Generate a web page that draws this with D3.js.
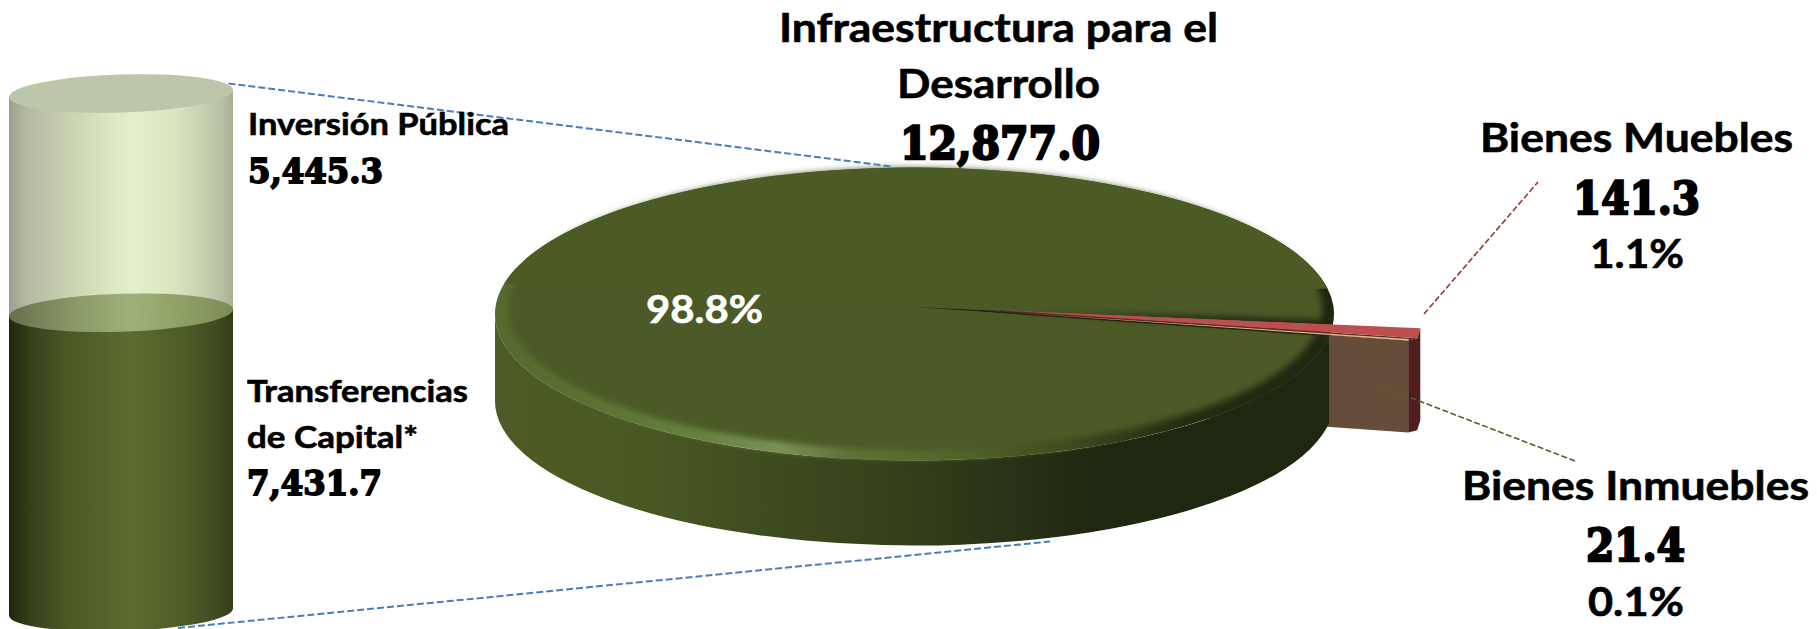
<!DOCTYPE html>
<html>
<head>
<meta charset="utf-8">
<script src="https://cdn.jsdelivr.net/npm/d3@7"></script>
<style>
html,body{margin:0;padding:0;background:#fff;overflow:hidden}
svg{display:block}
</style>
</head>
<body>
<svg id="chart" width="1817" height="629"></svg>
<script>
// ---- data ----
const pieCategories = ["Bienes Muebles", "Bienes Inmuebles", "Infraestructura para el Desarrollo"];
const pieValues = [141.3, 21.4, 12877.0];
const cylCategories = ["Transferencias de Capital*", "Inversión Pública"];
const cylValues = [7431.7, 5445.3];
const valueLabels = ["141.3", "21.4", "12,877.0", "7,431.7", "5,445.3"];
const pctLabels = ["1.1%", "0.1%", "98.8%"];

// ---- layout ----
const W = 1817, H = 629;
const svg = d3.select("#chart");
const defs = svg.append("defs");
const rad = d => d * Math.PI / 180;

function gradient(id, x1, x2, stops) {
  const g = defs.append("linearGradient").attr("id", id)
    .attr("gradientUnits", "userSpaceOnUse")
    .attr("x1", x1).attr("x2", x2).attr("y1", 0).attr("y2", 0);
  stops.forEach(s => g.append("stop").attr("offset", s[0]).attr("stop-color", s[1]));
}
function blur(id, sd) {
  defs.append("filter").attr("id", id).attr("x", "-5%").attr("y", "-20%").attr("width", "110%").attr("height", "140%")
    .append("feGaussianBlur").attr("stdDeviation", sd);
}
blur("soft", 3.2);
blur("softer", 2.2);

// ---- cylinder ----
const cyl = { cx: 121, rx: 112, ry: 19, tilt: 1.8 };
const cylTotal = d3.sum(cylValues);
const yCyl = d3.scaleLinear().domain([0, cylTotal]).range([612, 93.5]);
const tiltDy = cyl.rx * Math.sin(rad(cyl.tilt));

gradient("liquid", cyl.cx - cyl.rx, cyl.cx + cyl.rx, [
  [0, "#1f2810"], [0.1, "#35411a"], [0.25, "#4a5824"], [0.55, "#5c6c30"], [0.8, "#4d5b27"], [0.95, "#3c4820"], [1, "#323c1a"]]);
gradient("glass", cyl.cx - cyl.rx, cyl.cx + cyl.rx, [
  [0, "#9a9f8e"], [0.08, "#b4baa2"], [0.3, "#cdd6b4"], [0.55, "#e4f0cb"], [0.75, "#d9e4bf"], [0.95, "#b8c0a2"], [1, "#a8b094"]]);
gradient("liquidTop", cyl.cx - cyl.rx, cyl.cx + cyl.rx, [
  [0, "#66704c"], [0.3, "#8b9a68"], [0.55, "#9fb179"], [0.8, "#8d9e64"], [1, "#7c8a58"]]);

function cylBody(v0, v1) {
  const yb = yCyl(v0), yt = yCyl(v1);
  const l = cyl.cx - cyl.rx, r = cyl.cx + cyl.rx;
  return `M${l},${yt + tiltDy}L${l},${yb + tiltDy}A${cyl.rx},${cyl.ry} ${-cyl.tilt} 0 0 ${r},${yb - tiltDy}L${r},${yt - tiltDy}Z`;
}
function cylEllipse(v, fill) {
  svg.append("ellipse").attr("cx", cyl.cx).attr("cy", yCyl(v)).attr("rx", cyl.rx).attr("ry", cyl.ry)
    .attr("transform", `rotate(${-cyl.tilt} ${cyl.cx} ${yCyl(v)})`).attr("fill", fill);
}
const gCyl = svg.append("g");
gCyl.append("path").attr("d", cylBody(cylValues[0], cylTotal)).attr("fill", "url(#glass)");
gCyl.append("path").attr("d", cylBody(0, cylValues[0])).attr("fill", "url(#liquid)");
cylEllipse(cylValues[0], "url(#liquidTop)");
cylEllipse(cylTotal, "#bcc6a9");

// ---- pie ----
const P = { cx: 914.5, cy: 314, rx: 419.5, ry: 146.5, apexY: 307, botCy: 401, botRy: 144.5 };
const arcs = d3.pie().sort(null).startAngle(rad(94.3)).endAngle(rad(94.3 + 360))(pieValues);
const [aM, aI, aB] = arcs;

const pt = (a, cy = P.cy, ry = P.ry, rx = P.rx, cx = P.cx) => [cx + rx * Math.sin(a), cy - ry * Math.cos(a)];
function slicePath(a0, a1, o = {}) {
  const cx = o.cx ?? P.cx, cy = o.cy ?? P.cy, rx = o.rx ?? P.rx, ry = o.ry ?? P.ry;
  const dx = o.dx ?? 0, dy = o.dy ?? 0, apexY = o.apexY ?? P.apexY;
  const s = pt(a0, cy, ry, rx, cx), e = pt(a1, cy, ry, rx, cx);
  const large = a1 - a0 > Math.PI ? 1 : 0;
  return `M${P.cx + dx},${apexY + dy}L${s[0] + dx},${s[1] + dy}A${rx},${ry} 0 ${large} 1 ${e[0] + dx},${e[1] + dy}Z`;
}

const explode = (a, dist) => [dist * Math.sin(a), -dist * Math.cos(a) * P.ry / P.rx];
const mid = d => (d.startAngle + d.endAngle) / 2;
const offM = explode(mid(aM), 88), offI = explode(mid(aI), 80);
const depth = 92;

gradient("sideG", P.cx - P.rx, P.cx + P.rx, [
  [0, "#4d5c27"], [0.16, "#4a5923"], [0.34, "#3e4b1e"], [0.47, "#35411a"], [0.62, "#283216"], [0.72, "#1e2710"], [1, "#1e2710"]]);
gradient("rimG", P.cx - P.rx, P.cx + P.rx, [
  [0, "#566a2e"], [0.12, "#5b7232"], [0.24, "#67803f"], [0.34, "#7a9056"], [0.42, "#5f7238"], [0.55, "#53642b"], [0.68, "#3f4c20"], [0.82, "#232d12"], [1, "#1e2710"]]);

const gPie = svg.append("g");

// brown wall of the exploded Inmuebles slice
const iStart = [P.cx + offI[0], P.apexY + offI[1]];
const iEnd = pt(aI.endAngle).map((v, i) => v + offI[i]);
gPie.append("path")
  .attr("d", d3.line()([iStart, iEnd, [iEnd[0], iEnd[1] + depth], [iStart[0], iStart[1] + depth]]))
  .attr("fill", "#664d39");

// dark red outer wall of the exploded Muebles slice
const m0 = pt(aM.startAngle).map((v, i) => v + offM[i]);
const m1 = pt(aM.endAngle).map((v, i) => v + offM[i]);
const wall = [m0, m1, iEnd];
gPie.append("path")
  .attr("d", d3.line()([...wall, ...wall.slice().reverse().map(p => [p[0], p[1] + depth])]))
  .attr("fill", "#4f1f20");

// side of the big slice (visible front half)
const leftA = rad(270);
const sTop = pt(aB.startAngle), eTop = pt(leftA);
const sBot = pt(aB.startAngle, P.botCy, P.botRy), eBot = pt(leftA, P.botCy, P.botRy);
gPie.append("path")
  .attr("d", `M${sTop}A${P.rx},${P.ry} 0 0 1 ${eTop}L${eBot}A${P.rx},${P.botRy} 0 0 0 ${sBot}Z`)
  .attr("fill", "url(#sideG)");

// top of the big slice: bevel rim + flat face
gPie.append("path").attr("d", slicePath(aB.startAngle, aB.endAngle)).attr("fill", "url(#rimG)");
gPie.append("path")
  .attr("d", slicePath(aB.startAngle, aB.endAngle, { cx: 915, cy: 309, rx: 407, ry: 141 }))
  .attr("fill", "#4c5a26").attr("filter", "url(#soft)");
// highlight running along the front of the bevel
const hA0 = pt(rad(262), P.cy - 4, P.ry, P.rx - 4), hA1 = pt(rad(150), P.cy - 4, P.ry, P.rx - 4);
gPie.append("path")
  .attr("d", `M${hA0}A${P.rx - 4},${P.ry} 0 0 0 ${hA1}`)
  .attr("fill", "none").attr("stroke", "url(#rimG)").attr("stroke-width", 7).attr("filter", "url(#softer)");
// the far half of the face stays flat right up to the edge
gPie.append("path").attr("d", slicePath(rad(282), rad(440))).attr("fill", "#4c5a26");

// dark slit left by the two exploded slices
gPie.append("path").attr("d", slicePath(aM.startAngle, aI.endAngle)).attr("fill", "#1e2710");
// dark seam between the two exploded tops
const mStart = [P.cx + offM[0], P.apexY + offM[1]];
gPie.append("path").attr("d", d3.line()([mStart, m1, iEnd, iStart])).attr("fill", "#5a2c28");
// tops of the exploded slices
gPie.append("path").attr("d", slicePath(aI.startAngle, aI.endAngle, { dx: offI[0], dy: offI[1] })).attr("fill", "#e9b98a");
gPie.append("path").attr("d", slicePath(aM.startAngle, aM.endAngle, { dx: offM[0], dy: offM[1] })).attr("fill", "#bd4f4f");

// ---- leader lines ----
const leaders = [
  { p: [[228.5, 83.5], [892, 166.5]], c: "#4a7ebb", w: 2, d: "7 3" },
  { p: [[178, 628], [1050, 541.5]], c: "#4a7ebb", w: 2, d: "7 3" },
  { p: [[1424, 314], [1538, 182]], c: "#953735", w: 1.6, d: "6 2.5" },
  { p: [[1379, 385.5], [1575, 461]], c: "#4f6228", w: 1.6, d: "6 2.5" }
];
svg.append("g").selectAll("path").data(leaders).join("path")
  .attr("d", d => d3.line()(d.p)).attr("fill", "none")
  .attr("stroke", d => d.c).attr("stroke-width", d => d.w).attr("stroke-dasharray", d => d.d);

// ---- text ----
const sans = "Lato, 'Open Sans', sans-serif";
const serif = "'DejaVu Serif', 'Liberation Serif', serif";
const texts = [
  { t: "Infraestructura para el", x: 779, y: 41.5, w: 439, s: 41 },
  { t: "Desarrollo", x: 897, y: 98, w: 203, s: 41 },
  { t: valueLabels[2], x: 900, y: 159, w: 200, s: 45, v: 2.4 },
  { t: pieCategories[0], x: 1480, y: 152, w: 313, s: 40 },
  { t: valueLabels[0], x: 1573, y: 213.5, w: 127, s: 45, v: 2.4 },
  { t: pctLabels[0], x: 1590, y: 267.5, w: 94, s: 40 },
  { t: pieCategories[1], x: 1462, y: 500, w: 347, s: 40 },
  { t: valueLabels[1], x: 1586, y: 561, w: 99, s: 45, v: 2.4 },
  { t: pctLabels[1], x: 1588, y: 615.5, w: 96, s: 40 },
  { t: cylCategories[1], x: 248, y: 135, w: 261, s: 31 },
  { t: valueLabels[4], x: 248, y: 182.5, w: 135, s: 34, v: 1.8 },
  { t: "Transferencias", x: 247, y: 402, w: 221, s: 31 },
  { t: "de Capital*", x: 247, y: 447.5, w: 171, s: 31 },
  { t: valueLabels[3], x: 247, y: 494.5, w: 135, s: 34, v: 1.8 },
  { t: pctLabels[2], x: 646, y: 323, w: 117, s: 39, c: "#fff" }
];
svg.append("g").selectAll("text").data(texts).join("text")
  .attr("x", d => d.x).attr("y", d => d.y)
  .attr("textLength", d => d.w).attr("lengthAdjust", "spacingAndGlyphs")
  .attr("font-family", d => d.v ? serif : sans)
  .attr("font-weight", 700)
  .attr("font-size", d => d.s)
  .attr("fill", d => d.c || "#000")
  .attr("stroke", d => d.c || "#000")
  .attr("stroke-width", d => d.v || 0.6)
  .text(d => d.t);
</script>
</body>
</html>
